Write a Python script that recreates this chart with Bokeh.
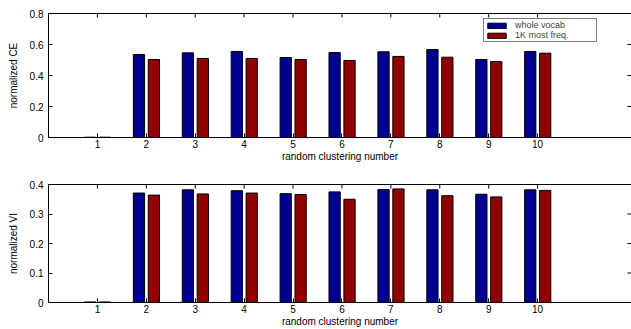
import math
from bokeh.plotting import figure
from bokeh.layouts import column
from bokeh.models import LinearAxis, FixedTicker, Range1d, Legend, LegendItem, ColumnDataSource
from bokeh.transform import dodge
from bokeh.embed import file_html
from bokeh.resources import INLINE

clusters = [1, 2, 3, 4, 5, 6, 7, 8, 9, 10]
ce_whole = [0.002, 0.535, 0.546, 0.555, 0.516, 0.548, 0.553, 0.568, 0.503, 0.555]
ce_freq = [0.002, 0.503, 0.510, 0.510, 0.503, 0.497, 0.523, 0.518, 0.490, 0.544]
vi_whole = [0.002, 0.371, 0.382, 0.379, 0.369, 0.375, 0.383, 0.382, 0.367, 0.382]
vi_freq = [0.002, 0.364, 0.368, 0.371, 0.366, 0.350, 0.385, 0.362, 0.358, 0.380]
ce_ticks = [0, 0.2, 0.4, 0.6, 0.8]
vi_ticks = [0, 0.1, 0.2, 0.3, 0.4]
series_names = ["whole vocab", "1K most freq."]
x_label = "random clustering number"

BLUE = "#000090"
RED = "#900000"
FONT = "Liberation Sans"
FS = "10px"
XMAX = 11.92


def style_axis(ax, ticks):
    ax.ticker = FixedTicker(ticks=ticks)
    ax.major_tick_in = 4
    ax.major_tick_out = 0
    ax.minor_tick_in = 0
    ax.minor_tick_out = 0
    ax.axis_line_color = "black"
    ax.major_tick_line_color = "black"
    ax.major_label_text_font = FONT
    ax.major_label_text_font_size = FS
    ax.major_label_text_color = "black"
    ax.axis_label_text_font = FONT
    ax.axis_label_text_font_size = FS
    ax.axis_label_text_font_style = "normal"
    ax.axis_label_text_color = "black"


def panel(height, ymax, yticks, ylabel, whole, freq, top_border, bottom_border, legend=False):
    src = ColumnDataSource(dict(x=clusters, a=whole, b=freq))
    p = figure(width=631, height=height, x_range=Range1d(0, XMAX), y_range=Range1d(0, ymax),
               output_backend="svg", toolbar_location=None,
               min_border_left=48, min_border_right=0,
               min_border_top=top_border, min_border_bottom=bottom_border)
    p.outline_line_color = None
    p.xgrid.visible = False
    p.ygrid.visible = False
    r1 = p.vbar(x=dodge("x", -0.15, range=p.x_range), top="a", width=0.23, source=src,
                fill_color=BLUE, line_color="black", line_width=1)
    r2 = p.vbar(x=dodge("x", 0.155, range=p.x_range), top="b", width=0.23, source=src,
                fill_color=RED, line_color="black", line_width=1)
    style_axis(p.xaxis[0], clusters)
    style_axis(p.yaxis[0], yticks)
    p.xaxis[0].axis_label = x_label
    p.xaxis[0].major_label_standoff = 2
    p.xaxis[0].axis_label_standoff = 0
    p.yaxis[0].axis_label = ylabel
    p.yaxis[0].major_label_standoff = 5
    p.yaxis[0].axis_label_standoff = 8
    # box top edge (no labels)
    top = LinearAxis(ticker=FixedTicker(ticks=[]))
    top.axis_line_color = "black"
    top.major_tick_out = 0
    top.minor_tick_out = 0
    top.major_label_standoff = 0
    p.add_layout(top, "above")
    # inward ticks on top and right edges (clipped to the frame)
    p.scatter(x=clusters, y=[ymax] * len(clusters), marker="dash", angle=math.pi / 2,
              size=8, line_color="black", line_width=1)
    p.scatter(x=[XMAX] * len(yticks), y=yticks, marker="dash",
              size=8, line_color="black", line_width=1)
    if legend:
        lg = Legend(items=[LegendItem(label=series_names[0], renderers=[r1]),
                           LegendItem(label=series_names[1], renderers=[r2])],
                    location=(435, 95))
        lg.border_line_color = "black"
        lg.border_line_width = 1
        lg.background_fill_color = "white"
        lg.background_fill_alpha = 1
        lg.label_text_font = FONT
        lg.label_text_font_size = "9px"
        lg.label_height = 8
        lg.glyph_height = 7
        lg.glyph_width = 23
        lg.label_width = 80
        lg.label_standoff = 7
        lg.spacing = 0
        lg.padding = 1
        lg.margin = 0
        p.add_layout(lg, "center")
    return p


p1 = panel(165, 0.8, ce_ticks, "normalized CE", ce_whole, ce_freq, 13, 28, legend=True)
p2 = panel(164, 0.4, vi_ticks, "normalized VI", vi_whole, vi_freq, 19, 22)

layout = column(p1, p2, spacing=0)
open("out.html", "w").write(file_html(layout, INLINE))
